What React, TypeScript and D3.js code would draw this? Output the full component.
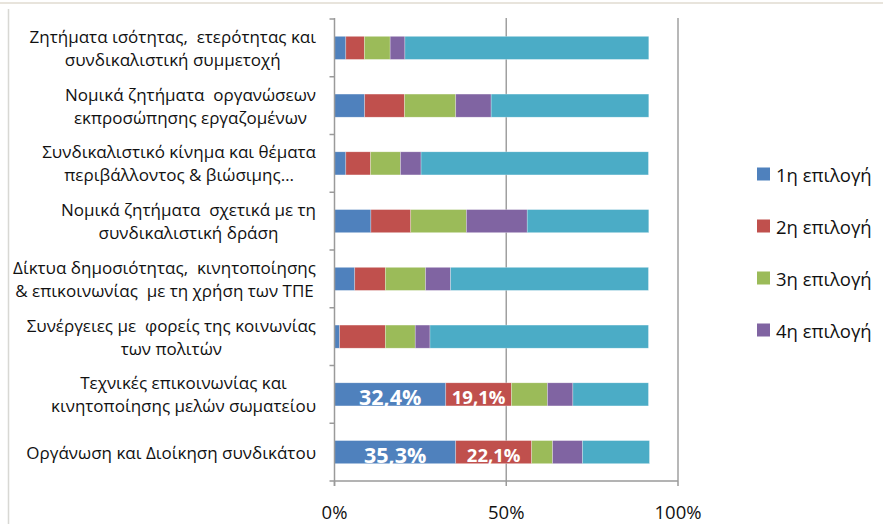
import React, { useEffect, useRef } from "react";
import * as d3 from "d3";

// category labels (each item = lines of the wrapped label), top to bottom
const categories = [
  ["Ζητήματα ισότητας,  ετερότητας και", "συνδικαλιστική συμμετοχή"],
  ["Νομικά ζητήματα  οργανώσεων", "εκπροσώπησης εργαζομένων"],
  ["Συνδικαλιστικό κίνημα και θέματα", "περιβάλλοντος & βιώσιμης…"],
  ["Νομικά ζητήματα  σχετικά με τη", "συνδικαλιστική δράση"],
  ["Δίκτυα δημοσιότητας,  κινητοποίησης", "& επικοινωνίας  με τη χρήση των ΤΠΕ"],
  ["Συνέργειες με  φορείς της κοινωνίας", "των πολιτών"],
  ["Τεχνικές επικοινωνίας και", "κινητοποίησης μελών σωματείου"],
  ["Οργάνωση και Διοίκηση συνδικάτου"],
];

const seriesNames = ["1η επιλογή", "2η επιλογή", "3η επιλογή", "4η επιλογή", "Καμία"];
const first = [3.3, 8.8, 3.3, 10.6, 5.9, 1.5, 32.4, 35.3];
const second = [5.4, 11.6, 7.2, 11.6, 8.9, 13.3, 19.1, 22.1];
const third = [7.5, 14.9, 8.7, 16.2, 11.7, 8.7, 10.5, 6.1];
const fourth = [4.3, 10.3, 6.0, 17.7, 7.3, 4.3, 7.4, 8.7];
const rest = [71.0, 45.9, 66.2, 35.4, 57.6, 63.6, 22.0, 19.5];
const colors = ["#4F81BD", "#C0504D", "#9BBB59", "#8064A2", "#4BACC6"];
const legendCount = 4; // last series has no legend entry
const xTicks = [0, 0.5, 1];
// data labels only on the last two bars, first two series
const labelCats = [6, 7];
const labelSeries = [0, 1];
const labelSizes = [21.5, 18.5];

const W = 883;
const H = 524;
const FONT = "'Open Sans', sans-serif";

const App = () => {
  const ref = useRef<SVGSVGElement>(null);

  useEffect(() => {
    const svg = d3.select(ref.current);
    svg.selectAll("*").remove();

    const left = 334.5, right = 678, top = 19, bottom = 481;
    const rows = categories.map((c, i) => ({
      i,
      vals: [first[i], second[i], third[i], fourth[i], rest[i]].map((v) => v / 100),
    }));
    const keys = [0, 1, 2, 3, 4];
    const stacked = d3
      .stack<any, number>()
      .keys(keys)
      .value((d, k) => d.vals[k])(rows);

    const x = d3.scaleLinear().domain([0, 1]).range([left, right]);
    const y = d3
      .scaleBand<number>()
      .domain(categories.map((_, i) => i))
      .range([top, bottom])
      .paddingInner(0.6)
      .paddingOuter(0.3);

    // chart frame
    svg.append("line").attr("x1", 0).attr("x2", W).attr("y1", 3).attr("y2", 3)
      .attr("stroke", "#e8e4dc").attr("stroke-width", 2);
    svg.append("line").attr("x1", 8.5).attr("x2", 8.5).attr("y1", 9).attr("y2", H)
      .attr("stroke", "#d8d8d4").attr("stroke-width", 1.5);

    // gridlines
    svg.append("g").selectAll("line").data(xTicks.filter((t) => t > 0)).join("line")
      .attr("x1", (d) => x(d)).attr("x2", (d) => x(d))
      .attr("y1", top - 1).attr("y2", bottom)
      .attr("stroke", "#a0a0a0").attr("stroke-width", 1.5);

    // bars
    svg.append("g").selectAll("g").data(stacked).join("g")
      .attr("fill", (d) => colors[d.key as number])
      .selectAll("rect").data((d) => d).join("rect")
      .attr("x", (d) => x(d[0]))
      .attr("width", (d) => x(d[1]) - x(d[0]))
      .attr("y", (d) => y(d.data.i)!)
      .attr("height", y.bandwidth())
      .attr("stroke", "#ffffff").attr("stroke-opacity", 0.45).attr("stroke-width", 0.6);

    // data labels
    const fmt = d3.format(".1f");
    labelSeries.forEach((s, si) => {
      labelCats.forEach((c) => {
        const seg = stacked[s][c];
        svg.append("text")
          .attr("x", (x(seg[0]) + x(seg[1])) / 2)
          .attr("y", y(c)! + y.bandwidth() / 2 + 2)
          .attr("text-anchor", "middle").attr("dominant-baseline", "central")
          .attr("font-family", FONT).attr("font-weight", "bold")
          .attr("font-size", labelSizes[si]).attr("fill", "#fff")
          .text(fmt((seg[1] - seg[0]) * 100).replace(".", ",") + "%");
      });
    });

    // axes
    const axisColor = "#9a9a9a";
    svg.append("line").attr("x1", left).attr("x2", left).attr("y1", top - 1).attr("y2", bottom + 5)
      .attr("stroke", axisColor).attr("stroke-width", 1.5);
    svg.append("line").attr("x1", left - 5).attr("x2", right).attr("y1", bottom).attr("y2", bottom)
      .attr("stroke", axisColor).attr("stroke-width", 1.5);
    const step = y.step();
    svg.append("g").selectAll("line").data(d3.range(categories.length)).join("line")
      .attr("x1", left - 5).attr("x2", left)
      .attr("y1", (i) => top + i * step).attr("y2", (i) => top + i * step)
      .attr("stroke", axisColor).attr("stroke-width", 1.5);
    svg.append("g").selectAll("line").data(xTicks).join("line")
      .attr("x1", (d) => x(d)).attr("x2", (d) => x(d))
      .attr("y1", bottom).attr("y2", bottom + 5)
      .attr("stroke", axisColor).attr("stroke-width", 1.5);
    svg.append("g").selectAll("text").data(xTicks).join("text")
      .attr("x", (d) => x(d)).attr("y", 511)
      .attr("text-anchor", "middle").attr("dominant-baseline", "central")
      .attr("font-family", FONT).attr("font-size", 18.5).attr("fill", "#111")
      .text((d) => d3.format(".0%")(d));

    // category labels: block right-aligned, lines centred inside it
    const labelRight = 316;
    const lineGap = 23;
    categories.forEach((lines, i) => {
      const cy = y(i)! + y.bandwidth() / 2;
      const g = svg.append("g");
      const texts = lines.map((ln, k) =>
        g.append("text")
          .attr("y", cy + (k - (lines.length - 1) / 2) * lineGap)
          .attr("text-anchor", "middle").attr("dominant-baseline", "central")
          .attr("font-family", FONT).attr("font-size", 17).attr("fill", "#111")
          .attr("xml:space", "preserve")
          .text(ln)
      );
      const maxW = d3.max(texts, (t) => (t.node() as SVGTextElement).getComputedTextLength()) || 0;
      texts.forEach((t) => t.attr("x", labelRight - maxW / 2));
    });

    // legend
    const legendY = [174, 226, 278, 330];
    const lg = svg.append("g").selectAll("g").data(d3.range(legendCount)).join("g")
      .attr("transform", (i) => `translate(757, ${legendY[i]})`);
    lg.append("rect").attr("x", 0).attr("y", -6.5).attr("width", 13).attr("height", 13)
      .attr("fill", (i) => colors[i]);
    lg.append("text").attr("x", 19).attr("y", 0).attr("dominant-baseline", "central")
      .attr("font-family", FONT).attr("font-size", 18.5).attr("fill", "#111")
      .text((i) => seriesNames[i]);
  }, []);

  return (
    <svg
      ref={ref}
      width={W}
      height={H}
      style={{ position: "absolute", left: 0, top: 0, background: "#fff" }}
    />
  );
};

export default App;
